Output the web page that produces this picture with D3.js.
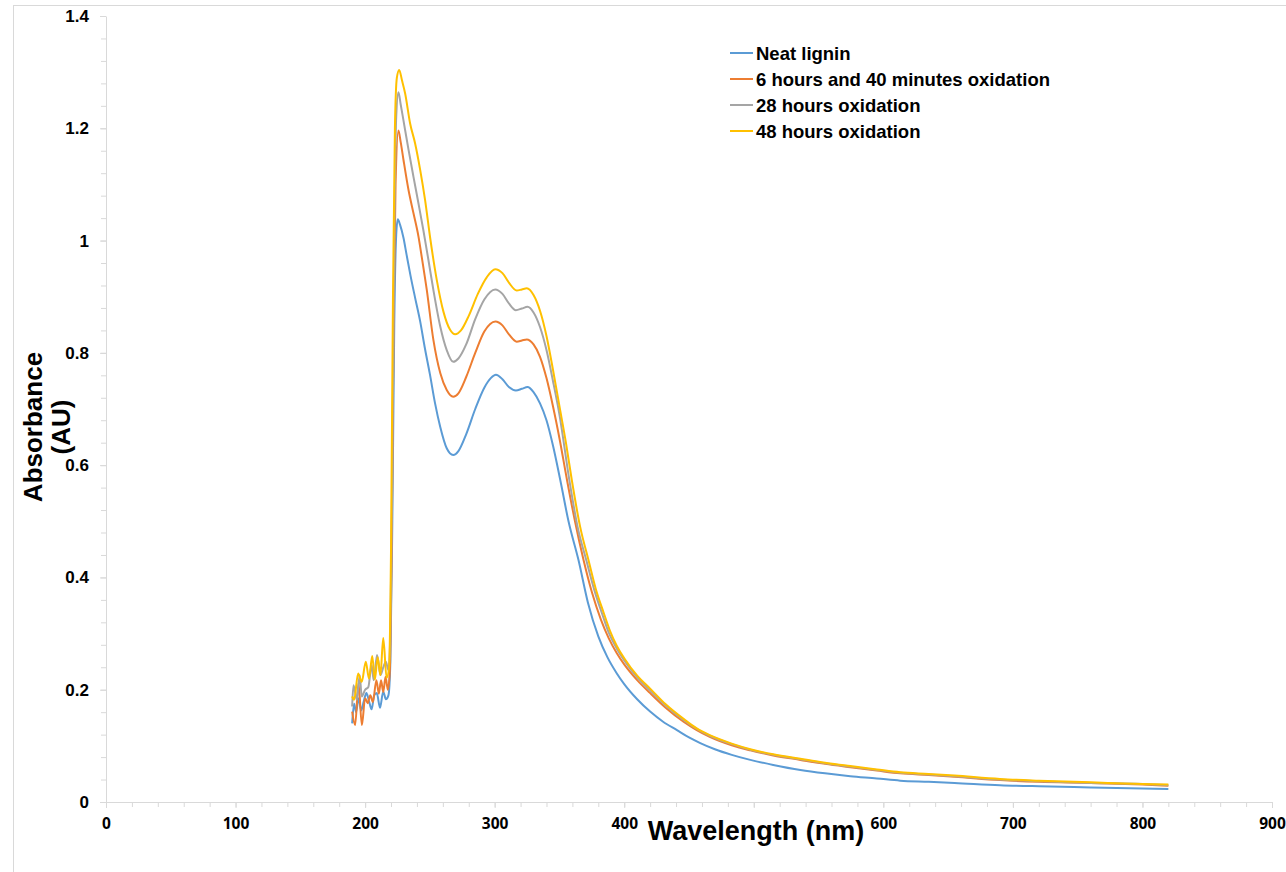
<!DOCTYPE html>
<html>
<head>
<meta charset="utf-8">
<script src="https://cdn.jsdelivr.net/npm/d3@7"></script>
<style>
  body { margin: 0; background: #fff; }
  svg { display: block; }
  text { font-family: "Liberation Sans", Arial, sans-serif; font-weight: bold; fill: #000; }
  .axis path, .axis line { stroke: #d9d9d9; stroke-width: 1; }
</style>
</head>
<body>
<svg id="chart" width="1286" height="872"></svg>
<script>
// series, in drawing order
const seriesNames = [
  "Neat lignin",
  "6 hours and 40 minutes oxidation",
  "28 hours oxidation",
  "48 hours oxidation"
];
const seriesColors = ["#5b9bd5", "#ed7d31", "#a5a5a5", "#ffc000"];

// [wavelength nm, absorbance AU]
const neatLignin = [
  [190,0.14],[191.5,0.175],[193,0.16],[195,0.185],[197,0.163],[199,0.18],[201,0.194],[203,0.18],
  [205,0.165],[207,0.19],[209,0.194],[211.5,0.168],[214,0.197],[216,0.183],[218,0.19],[219.5,0.25],
  [221,0.5],[222.5,0.85],[224,1.01],[225.2,1.038],[227,1.028],[229.6,1.005],[232,0.975],[235,0.938],
  [238.6,0.898],[242.5,0.856],[246,0.81],[250,0.762],[254,0.71],[258,0.668],[263,0.63],[268,0.618],
  [272,0.625],[278,0.655],[285,0.70],[292,0.738],[297,0.755],[301,0.761],[306,0.753],[311,0.739],
  [316.4,0.733],[321,0.736],[325.4,0.739],[330,0.73],[335,0.71],[340,0.68],[345,0.635],[350.6,0.574],
  [357,0.50],[364.7,0.431],[372,0.355],[380,0.295],[387,0.258],[394.3,0.229],[400,0.21],[410,0.183],
  [420,0.161],[430,0.143],[440.7,0.128],[450,0.115],[458.7,0.105],[470,0.094],[483,0.084],[497.3,0.075],
  [515,0.066],[536,0.057],[555,0.051],[574.5,0.046],[595,0.042],[613,0.038],[635,0.036],[655,0.034],
  [690,0.030],[720,0.028],[760,0.026],[800,0.024],[820,0.023]
];
const oxidation6h40 = [
  [190,0.161],[192.3,0.137],[194.9,0.212],[197.5,0.137],[200,0.185],[202,0.176],[204,0.19],[206,0.178],
  [208.7,0.217],[210.6,0.193],[212.3,0.217],[214,0.196],[215.8,0.223],[217.5,0.2],[219,0.23],[220.5,0.45],
  [222,0.85],[223.5,1.1],[225.7,1.196],[227.5,1.175],[229.6,1.144],[233.5,1.09],[237.3,1.049],[241.2,1.007],
  [243.7,0.971],[247.6,0.912],[252.7,0.823],[258,0.764],[263,0.734],[268,0.722],[272,0.728],[278,0.757],
  [285,0.80],[292,0.838],[300.6,0.856],[306,0.849],[311,0.833],[317,0.820],[321,0.822],[324.8,0.824],
  [330,0.815],[335,0.793],[340,0.755],[345,0.705],[350,0.648],[355.8,0.574],[362,0.50],[368.6,0.431],
  [375,0.374],[382,0.325],[388,0.292],[394.3,0.265],[400,0.245],[410,0.217],[420,0.194],[432,0.168],
  [445.8,0.143],[456,0.128],[466,0.116],[483,0.101],[497.3,0.092],[515,0.083],[536,0.075],[555,0.068],
  [574.5,0.062],[595,0.056],[613,0.051],[635,0.048],[655,0.045],[690,0.039],[720,0.036],[760,0.034],
  [800,0.031],[820,0.029]
];
const oxidation28h = [
  [190,0.17],[191,0.208],[193.6,0.182],[195.8,0.226],[197.4,0.188],[200,0.2],[202.5,0.205],[205,0.244],
  [206.6,0.217],[209.2,0.262],[211.9,0.226],[214,0.24],[216,0.25],[218,0.235],[219.5,0.3],[221,0.6],
  [222.5,1.0],[224,1.22],[225.7,1.264],[227.5,1.242],[229.6,1.214],[233.5,1.162],[237.3,1.114],[241.2,1.066],
  [245,1.018],[248.9,0.965],[252.7,0.912],[258,0.847],[263,0.805],[268,0.784],[272,0.79],[278,0.815],
  [285,0.86],[292,0.895],[300.4,0.913],[306,0.905],[311,0.888],[316.4,0.876],[321,0.879],[325.4,0.882],
  [330,0.872],[335,0.846],[340,0.805],[345,0.75],[350,0.69],[357.6,0.574],[364,0.49],[370.7,0.431],
  [377,0.377],[383,0.335],[388,0.302],[394.3,0.273],[400,0.252],[410,0.222],[420,0.199],[432,0.172],
  [445.8,0.146],[456,0.13],[466,0.118],[483,0.103],[497.3,0.093],[515,0.084],[536,0.076],[555,0.069],
  [574.5,0.063],[595,0.057],[613,0.052],[635,0.049],[655,0.046],[690,0.040],[720,0.037],[760,0.034],
  [800,0.032],[820,0.030]
];
const oxidation48h = [
  [190,0.188],[191.5,0.182],[194.6,0.229],[197.4,0.214],[200.5,0.25],[203,0.22],[205.5,0.26],[207.5,0.218],
  [209.7,0.258],[211.8,0.226],[214,0.292],[216.6,0.221],[218.5,0.24],[220,0.45],[221.5,0.9],[223,1.2],
  [224.5,1.29],[226.3,1.304],[228.5,1.285],[230.9,1.262],[234.7,1.209],[238.6,1.173],[242.5,1.126],[246.3,1.072],
  [250.2,1.005],[255.3,0.93],[260.5,0.873],[265.6,0.841],[269.5,0.833],[274,0.84],[280,0.866],[287,0.905],
  [294,0.935],[300.4,0.949],[306,0.942],[311,0.925],[317,0.911],[321,0.913],[324.8,0.915],[330,0.903],
  [335,0.875],[340,0.83],[345,0.77],[350,0.705],[355,0.64],[359.5,0.574],[366,0.49],[372.4,0.431],
  [378,0.38],[384,0.338],[389,0.305],[394.3,0.278],[400,0.256],[410,0.225],[420,0.202],[432,0.174],
  [445.8,0.148],[456,0.131],[466,0.119],[483,0.104],[497.3,0.094],[515,0.085],[536,0.077],[555,0.07],
  [574.5,0.064],[595,0.058],[613,0.053],[635,0.05],[655,0.047],[690,0.041],[720,0.038],[760,0.035],
  [800,0.032],[820,0.031]
];
const seriesData = [neatLignin, oxidation6h40, oxidation28h, oxidation48h];

const xTicks = [0, 100, 200, 300, 400, 500, 600, 700, 800, 900];
const xHiddenLabels = [500]; // sits under the axis title in the original
const yTicks = [0, 0.2, 0.4, 0.6, 0.8, 1, 1.2, 1.4];
const xMinorStep = 20;
const yMinorStep = 0.04;

const svg = d3.select("#chart");

// outer chart frame
svg.append("rect")
  .attr("x", 13.5).attr("y", 5.5)
  .attr("width", 1300).attr("height", 900)
  .attr("fill", "none").attr("stroke", "#d9d9d9");

const x = d3.scaleLinear().domain([0, 900]).range([106, 1272]);
const y = d3.scaleLinear().domain([0, 1.4]).range([802, 16]);

// minor ticks
svg.append("g")
  .attr("class", "axis")
  .attr("transform", "translate(0,802)")
  .call(d3.axisBottom(x).tickValues(d3.range(0, 900.1, xMinorStep)).tickSize(5).tickFormat(""))
  .call(g => g.select(".domain").remove());
svg.append("g")
  .attr("class", "axis")
  .attr("transform", "translate(106,0)")
  .call(d3.axisLeft(y).tickValues(d3.range(0, 1.4001, yMinorStep)).tickSize(5).tickFormat(""))
  .call(g => g.select(".domain").remove());

// major axes
svg.append("g")
  .attr("class", "axis x-axis")
  .attr("transform", "translate(0,802)")
  .call(d3.axisBottom(x).tickValues(xTicks).tickSize(6).tickSizeOuter(0).tickPadding(10)
    .tickFormat(d => xHiddenLabels.includes(d) ? "" : String(d)))
  .call(g => g.selectAll("text")
    .style("font-family", "'Open Sans', sans-serif")
    .style("font-size", "15.5px")
    .style("font-weight", "bold"));
svg.append("g")
  .attr("class", "axis y-axis")
  .attr("transform", "translate(106,0)")
  .call(d3.axisLeft(y).tickValues(yTicks).tickSize(6).tickSizeOuter(0).tickPadding(11)
    .tickFormat(d3.format("~g")))
  .call(g => g.selectAll("text")
    .style("font-family", "'Liberation Sans', Arial, sans-serif")
    .style("font-size", "17px")
    .style("font-weight", "bold"));

// series lines
const line = d3.line()
  .x(d => x(d[0]))
  .y(d => y(d[1]))
  .curve(d3.curveMonotoneX);

svg.append("g")
  .selectAll("path")
  .data(seriesData)
  .join("path")
  .attr("d", line)
  .attr("fill", "none")
  .attr("stroke", (d, i) => seriesColors[i])
  .attr("stroke-width", 2)
  .attr("stroke-linejoin", "round");

// axis titles
svg.append("text")
  .attr("x", 756).attr("y", 840)
  .attr("text-anchor", "middle")
  .style("font-size", "27px")
  .text("Wavelength (nm)");

const yTitle = svg.append("text")
  .attr("transform", "translate(0,427) rotate(-90)")
  .attr("text-anchor", "middle")
  .style("font-size", "26px");
yTitle.append("tspan").attr("x", 0).attr("y", 42).text("Absorbance");
yTitle.append("tspan").attr("x", 0).attr("y", 70).text("(AU)");

// legend
const legend = svg.append("g").attr("transform", "translate(730,53)");
const rows = legend.selectAll("g")
  .data(seriesNames)
  .join("g")
  .attr("transform", (d, i) => "translate(0," + (i * 26) + ")");
rows.append("line")
  .attr("x1", 0).attr("x2", 23)
  .attr("stroke", (d, i) => seriesColors[i])
  .attr("stroke-width", 2);
rows.append("text")
  .attr("x", 26).attr("y", 6.5)
  .style("font-size", "18.5px")
  .text(d => d);
</script>
</body>
</html>
